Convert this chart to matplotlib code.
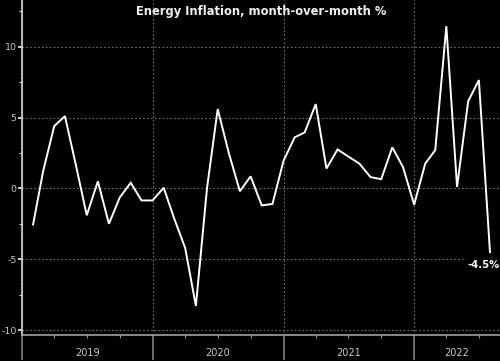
import datetime as dt
import matplotlib
matplotlib.use("Agg")
import matplotlib.pyplot as plt
import matplotlib.dates as mdates
import matplotlib.transforms as mtransforms

plt.rcParams["axes.unicode_minus"] = False

# monthly energy inflation, Feb 2019 - Aug 2022
start = dt.date(2019, 2, 1)
values = [-2.55, 1.2, 4.4, 5.1, 1.6, -1.9, 0.5, -2.5, -0.65, 0.4, -0.85,
          -0.85, 0.05, -2.1, -4.2, -8.3, 0.0, 5.6, 2.5, -0.2, 0.85, -1.2, -1.1,
          1.95, 3.6, 3.95, 5.95, 1.4, 2.75, 2.25, 1.75, 0.8, 0.65, 2.9, 1.5,
          -1.15, 1.75, 2.7, 11.45, 0.1, 6.15, 7.65, -4.5]
dates = []
for i in range(len(values)):
    m = start.month - 1 + i
    dates.append(dt.date(start.year + m // 12, m % 12 + 1, 1))

years = [2019, 2020, 2021, 2022]
y_ticks = [-10, -5, 0, 5, 10]
last_label = "-4.5%"

x_min = dt.date(2019, 1, 1)
x_max = dt.date(2022, 8, 29)

fig = plt.figure(figsize=(5, 3.61), dpi=100, facecolor="black")
ax = fig.add_axes([0.044, 0.072, 0.956, 0.928])
ax.set_facecolor("black")

ax.plot(dates, values, color="white", linewidth=1.4, solid_joinstyle="miter")

ax.set_xlim(x_min, x_max)
ax.set_ylim(-10.35, 13.3)

# grid
ax.set_yticks(y_ticks)
ax.set_yticks([-7.5, -2.5, 2.5, 7.5, 12.5], minor=True)
ax.xaxis.set_major_locator(mdates.YearLocator())
ax.xaxis.set_minor_locator(mdates.MonthLocator(bymonth=[4, 7, 10]))
ax.xaxis.set_major_formatter(plt.NullFormatter())
ax.grid(True, which="major", color="#6e6e6e", linestyle=(0, (1.5, 2)), linewidth=0.8)

ax.tick_params(axis="y", which="major", colors="#d0d0d0", labelsize=6.8,
               length=3.2, width=1.4, pad=0.6, labelcolor="#c8c8c8")
ax.tick_params(axis="y", which="minor", colors="#d0d0d0", length=2.2, width=0.8)
ax.tick_params(axis="x", which="major", colors="#808080", length=18, width=1.2,
               direction="out")
ax.tick_params(axis="x", which="minor", colors="#909090", length=2.5, width=0.8)

for s in ["top", "right"]:
    ax.spines[s].set_visible(False)
ax.spines["left"].set_color("#d8d8d8")
ax.spines["left"].set_linewidth(1.2)
ax.spines["bottom"].set_color("#a0a0a0")
ax.spines["bottom"].set_linewidth(1.2)

# year labels centred in the visible part of each year
trans = mtransforms.blended_transform_factory(ax.transData, ax.transAxes)
for yr in years:
    a = max(mdates.date2num(dt.date(yr, 1, 1)), mdates.date2num(x_min))
    b = min(mdates.date2num(dt.date(yr + 1, 1, 1)), mdates.date2num(x_max))
    ax.text((a + b) / 2, -0.054, str(yr), transform=trans, ha="center",
            va="center", color="#c8c8c8", fontsize=7, clip_on=False)

fig.text(0.522, 1 - 11 / 361, "Energy Inflation, month-over-month %",
         color="#f0f0f0", fontsize=8.3, fontweight="bold",
         ha="center", va="center")

ax.annotate(last_label, xy=(dates[-1], values[-1]), xytext=(-16.5, -9),
            textcoords="offset points", color="white", fontsize=7.2,
            fontweight="bold", ha="left", va="center",
            bbox=dict(facecolor="black", edgecolor="none", pad=0.5))

fig.savefig("out.png", dpi=100, facecolor="black")
